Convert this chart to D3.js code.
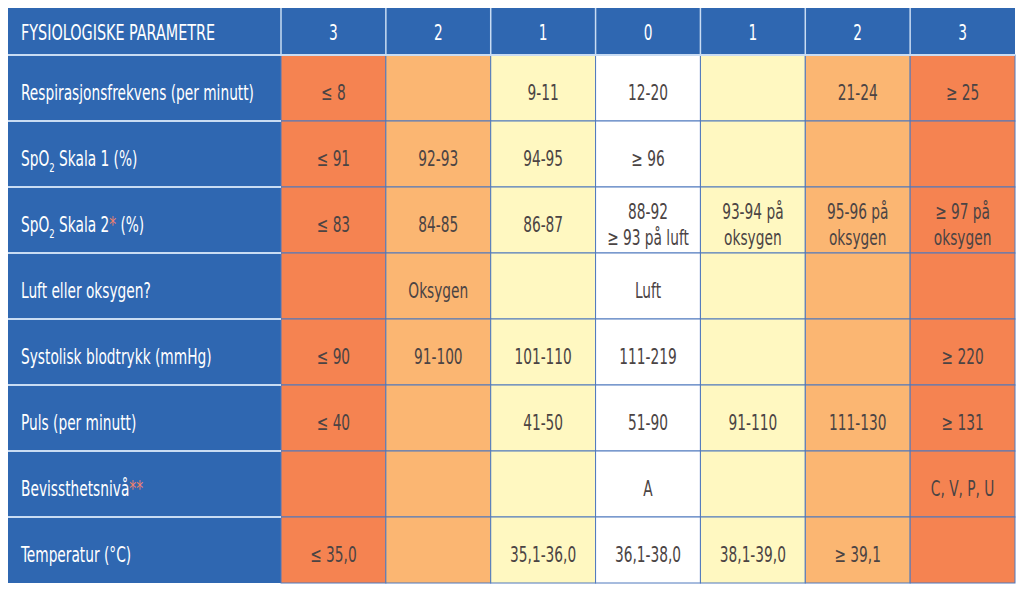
<!DOCTYPE html>
<html>
<head>
<meta charset="utf-8">
<script src="https://cdn.jsdelivr.net/npm/d3@7"></script>
<style>
  body { margin: 0; background: #fff; }
  text { font-family: "DejaVu Sans Condensed", "DejaVu Sans", sans-serif; }
</style>
</head>
<body>
<svg id="chart"></svg>
<script>
// Header scores for each column
var scores = [3, 2, 1, 0, 1, 2, 3];
var headerTitle = 'FYSIOLOGISKE PARAMETRE';

// Parameter names (rows)
var parameters = [
  'Respirasjonsfrekvens (per minutt)',
  'SpO2 Skala 1 (%)',
  'SpO2 Skala 2* (%)',
  'Luft eller oksygen?',
  'Systolisk blodtrykk (mmHg)',
  'Puls (per minutt)',
  'Bevissthetsnivå**',
  'Temperatur (°C)'
];

// Cell values, one array per row (lines split with |)
var respirasjon = ['≤ 8', '', '9-11', '12-20', '', '21-24', '≥ 25'];
var spo2Skala1 = ['≤ 91', '92-93', '94-95', '≥ 96', '', '', ''];
var spo2Skala2 = ['≤ 83', '84-85', '86-87', '88-92|≥ 93 på luft', '93-94 på|oksygen', '95-96 på|oksygen', '≥ 97 på|oksygen'];
var luftOksygen = ['', 'Oksygen', '', 'Luft', '', '', ''];
var blodtrykk = ['≤ 90', '91-100', '101-110', '111-219', '', '', '≥ 220'];
var puls = ['≤ 40', '', '41-50', '51-90', '91-110', '111-130', '≥ 131'];
var bevissthet = ['', '', '', 'A', '', '', 'C, V, P, U'];
var temperatur = ['≤ 35,0', '', '35,1-36,0', '36,1-38,0', '38,1-39,0', '≥ 39,1', ''];

var rows = [respirasjon, spo2Skala1, spo2Skala2, luftOksygen, blodtrykk, puls, bevissthet, temperatur];

var width = 1023, height = 591;
var svg = d3.select('#chart').attr('width', width).attr('height', height);

var left = 8, labelRight = 281, right = 1015;
var headerTop = 8, headerBottom = 55, bottom = 583;
var fontSize = 21;
var textShift = 4;   // text sits a little below the row centre

// Score column colours
var colour = d3.scaleOrdinal()
  .domain([0, 1, 2, 3])
  .range(['#ffffff', '#fff8c1', '#fbb672', '#f58351']);
var blue = '#2f67b1';

var x = d3.scaleBand().domain(d3.range(scores.length)).range([labelRight, right]);
var y = d3.scaleBand().domain(d3.range(parameters.length)).range([headerBottom, bottom]);

// Horizontal squeeze so the longest label fits like the condensed original
var probe = svg.append('text').style('font-size', fontSize + 'px').text(parameters[0]);
var squeeze = 233 / probe.node().getComputedTextLength();
probe.remove();

function place(px, py) {
  return `translate(${px},${py}) scale(${squeeze},1)`;
}

// Header row
svg.append('rect')
  .attr('x', left).attr('y', headerTop)
  .attr('width', right - left).attr('height', headerBottom - headerTop)
  .attr('fill', blue);

svg.append('text')
  .attr('transform', place(21, (headerTop + headerBottom) / 2 + 1))
  .attr('dy', '.36em')
  .attr('fill', '#fff')
  .style('font-size', '22px')
  .text(headerTitle);

svg.selectAll('.head')
  .data(scores)
  .enter()
  .append('text')
  .attr('transform', (d, i) => place(x(i) + x.bandwidth() / 2, (headerTop + headerBottom) / 2 + 1))
  .attr('dy', '.36em')
  .attr('text-anchor', 'middle')
  .attr('fill', '#fff')
  .style('font-size', fontSize + 'px')
  .text(d => d);

// Label column
svg.append('rect')
  .attr('x', left).attr('y', headerBottom)
  .attr('width', labelRight - left).attr('height', bottom - headerBottom)
  .attr('fill', blue);

var labels = svg.selectAll('.label')
  .data(parameters)
  .enter()
  .append('text')
  .attr('class', 'label')
  .attr('transform', (d, i) => place(21, y(i) + y.bandwidth() / 2 + textShift))
  .attr('fill', '#fff')
  .style('font-size', fontSize + 'px');

labels.each(function(d) {
  var t = d3.select(this);
  var rest = d;
  var back = 0;
  if (d.indexOf('SpO2') === 0) {
    rest = d.slice(4);
    t.append('tspan').attr('dy', '.36em').text('SpO');
    t.append('tspan').text('2').style('font-size', '13px').attr('dy', 6);
    back = -6;
  }
  var s = rest.match(/^(.*?)(\*+)(.*)$/);
  var parts = s ? [s[1], s[2], s[3]] : [rest];
  parts.forEach((p, i) => {
    var ts = t.append('tspan').text(p);
    if (i === 1) ts.attr('fill', '#f4816a');
    if (i === 0) ts.attr('dy', back ? back : '.36em');
  });
});

// Cells
var cells = [];
rows.forEach((r, ri) => r.forEach((v, ci) => cells.push({ row: ri, col: ci, value: v })));

svg.selectAll('.cell')
  .data(cells)
  .enter()
  .append('rect')
  .attr('class', 'cell')
  .attr('x', d => x(d.col))
  .attr('y', d => y(d.row))
  .attr('width', x.bandwidth())
  .attr('height', y.bandwidth())
  .attr('fill', d => colour(scores[d.col]))
  .attr('stroke', '#4f78bd')
  .attr('stroke-width', 1);

var cellText = svg.selectAll('.ctext')
  .data(cells.filter(d => d.value !== ''))
  .enter()
  .append('text')
  .attr('transform', d => place(x(d.col) + x.bandwidth() / 2, y(d.row) + y.bandwidth() / 2 + textShift))
  .attr('text-anchor', 'middle')
  .attr('fill', '#4b4444')
  .style('font-size', fontSize + 'px');

cellText.each(function(d) {
  var lines = d.value.split('|');
  var lh = 26;
  var t = d3.select(this);
  lines.forEach((line, i) => {
    t.append('tspan')
      .attr('x', 0)
      .attr('y', (i - (lines.length - 1) / 2) * lh)
      .attr('dy', '.36em')
      .text(line);
  });
});

// Separators in the blue area
svg.selectAll('.hsep')
  .data(d3.range(parameters.length))
  .enter()
  .append('line')
  .attr('x1', left).attr('x2', labelRight)
  .attr('y1', d => y(d)).attr('y2', d => y(d))
  .attr('stroke', '#c9dcf3').attr('stroke-width', 2);

svg.selectAll('.vsep')
  .data(d3.range(scores.length))
  .enter()
  .append('line')
  .attr('x1', d => x(d)).attr('x2', d => x(d))
  .attr('y1', headerTop).attr('y2', headerBottom)
  .attr('stroke', '#c9dcf3').attr('stroke-width', 1.5);

svg.append('line')
  .attr('x1', labelRight).attr('x2', right)
  .attr('y1', headerBottom).attr('y2', headerBottom)
  .attr('stroke', '#c9dcf3').attr('stroke-width', 2);
</script>
</body>
</html>
